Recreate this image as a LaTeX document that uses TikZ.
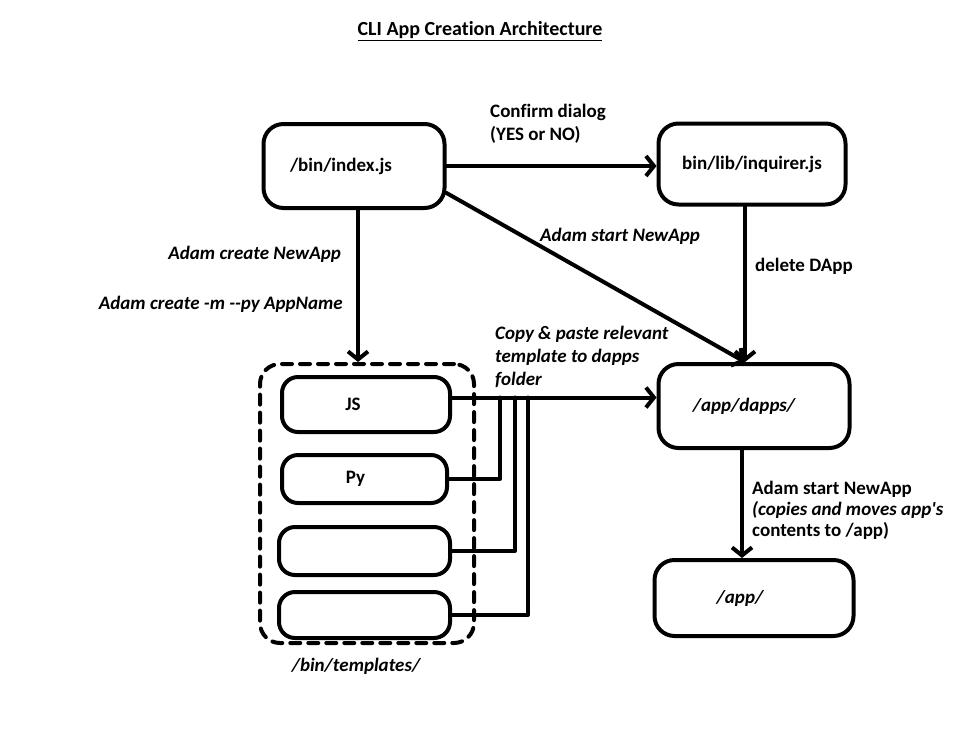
\documentclass[tikz,border=0pt]{standalone}
\usepackage{fontspec}
\setmainfont{Carlito}[Ligatures=NoCommon]
\usepackage{tikz}
\usetikzlibrary{arrows.meta}
\usetikzlibrary{positioning}

\tikzset{
  appbox/.style={draw,line width=4pt,rounded corners=20pt,inner sep=0pt},
  tplbox/.style={draw,line width=4pt,rounded corners=16pt,inner sep=0pt,minimum width=168pt,minimum height=50pt},
  lbl/.style={font=\fontsize{19}{23}\selectfont\bfseries,inner sep=0pt,align=left},
  itlbl/.style={lbl,font=\fontsize{19}{23}\selectfont\bfseries\itshape},
  conn/.style={line width=4pt},
}

\begin{document}
\begin{tikzpicture}[line cap=round,line join=round,>={Straight Barb[length=8pt,width=20pt]},x=1pt,y=-1pt]
\useasboundingbox[fill=white] (0,0) rectangle (960,750);
% title
\node[lbl,font=\fontsize{20}{22}\selectfont\bfseries] (title) at (480,31) {\underline{CLI App Creation Architecture}};
% main boxes
\node[appbox,minimum width=181pt,minimum height=84pt,lbl] (index) at (354,166) {/bin/index.js\hspace*{26pt}};
\node[appbox,minimum width=187pt,minimum height=81pt,lbl] (inquirer) at (752,164) {bin/lib/inquirer.js};
\node[appbox,minimum width=191pt,minimum height=84pt,itlbl] (dapps) at (754,406) {/app/dapps/\hspace*{20pt}};
\node[appbox,minimum width=199pt,minimum height=76pt,itlbl] (app) at (754,598) {/app/\hspace*{28pt}};
% templates
\node[draw,line width=4pt,rounded corners=20pt,dash pattern=on 10pt off 8pt,minimum width=214pt,minimum height=279pt,inner sep=0pt] (tpl) at (367,503.5) {};
\node[tplbox,minimum height=55pt,lbl] (js) at (366,404.5) {JS\hspace*{26pt}};
\node[tplbox,minimum width=165pt,minimum height=48pt,lbl] (py) at (364.5,479) {Py\hspace*{18pt}};
\node[tplbox,minimum width=171pt,minimum height=48pt] (tplc) at (364.5,551) {};
\node[tplbox,minimum width=171pt,minimum height=46pt] (tpld) at (364.5,615) {};
\node[itlbl] (tplname) at (356,666) {/bin/templates/};
% connectors
\draw[conn,->] (index.east) -- (index.east -| inquirer.west);
\draw[conn,->] ([xshift=4pt]index.south) -- ([xshift=4pt]index.south |- tpl.north);
\draw[conn,->] ([yshift=-27pt]index.east) -- ([xshift=-9pt]dapps.north);
\draw[conn,->] ([xshift=-7pt]inquirer.south) -- ([xshift=-7pt]inquirer.south |- dapps.north);
\draw[conn,->] ([xshift=-12pt]dapps.south) -- ([xshift=-12pt]dapps.south |- app.north);
\draw[conn,->] ([yshift=7pt]js.east) -- ([yshift=7pt]js.east -| dapps.west);
\draw[conn] (py.east) -| ([xshift=48pt,yshift=7pt]js.east);
\draw[conn] (tplc.east) -| ([xshift=63pt,yshift=7pt]js.east);
\draw[conn] (tpld.east) -| ([xshift=76pt,yshift=7pt]js.east);
% labels
\node[lbl,anchor=west] (confirm) at (490,123.5) {Confirm dialog\\(YES or NO)};
\node[itlbl,anchor=west] (startlbl) at (540,236) {Adam start NewApp};
\node[lbl,anchor=west] (deletelbl) at (755,266) {delete DApp};
\node[itlbl,anchor=east] (createlbl) at (341,254) {Adam create NewApp};
\node[itlbl,anchor=east] (createpy) at (343,304) {Adam create -m {-}{-}py AppName};
\node[itlbl,anchor=west] (copylbl) at (495,356.5) {Copy \& paste relevant\\template to dapps\\folder};
\node[lbl,anchor=west,font=\fontsize{19}{21}\selectfont\bfseries] (movelbl) at (752,510) {Adam start NewApp\\{\itshape (copies and moves app\textquotesingle s}\\contents to /app)};
\end{tikzpicture}
\end{document}
